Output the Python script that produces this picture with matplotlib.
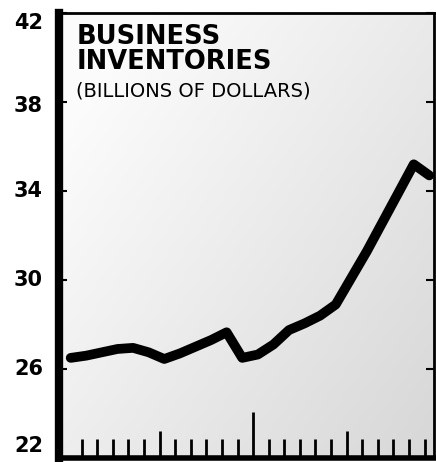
import matplotlib
matplotlib.use('Agg')
import matplotlib.pyplot as plt
import matplotlib.transforms as mtransforms
import numpy as np

# Monthly inventories, billions of dollars
months = np.arange(24) + 0.3
inventories = [26.5, 26.6, 26.75, 26.9, 26.95, 26.75, 26.45, 26.7, 27.0, 27.3,
               27.65, 26.5, 26.65, 27.1, 27.75, 28.05, 28.4, 28.9, 30.1, 31.3,
               32.6, 33.9, 35.2, 34.7]

y_ticks = [22, 26, 30, 34, 38, 42]
minor_x = np.arange(1, 24)

plt.rcParams['font.family'] = ['DejaVu Sans']

fig = plt.figure(figsize=(4.36, 4.62), dpi=100)
ax = fig.add_axes([59 / 436, 4 / 462, 375 / 436, 445 / 462])

ax.set_xlim(-0.45, 23.6)
ax.set_ylim(22, 42)

# stippled paper look: near white at top left, greyer towards bottom right
gx, gy = np.meshgrid(np.linspace(0, 1, 200), np.linspace(0, 1, 200))
shade = np.clip(0.6 * gx + 0.5 * gy - 0.15, 0, 1)
grey = 0.985 - 0.15 * shade
rgb = np.dstack([grey, grey, grey])
ax.imshow(rgb, extent=(-0.45, 23.6, 22, 42), origin='upper', aspect='auto',
          zorder=0)

ax.plot(months, inventories, color='black', linewidth=7,
        solid_joinstyle='round', solid_capstyle='round', zorder=3)

# title inside the plot
ax.text(0.048, 0.975, 'BUSINESS\nINVENTORIES', transform=ax.transAxes,
        fontsize=18.5, fontweight='bold', va='top', ha='left', linespacing=0.92)
ax.text(0.045, 0.845, '(BILLIONS OF DOLLARS)', transform=ax.transAxes,
        fontsize=14, va='top', ha='left')

# spines
ax.spines['left'].set_linewidth(6)
ax.spines['bottom'].set_linewidth(4)
ax.spines['top'].set_linewidth(2)
ax.spines['right'].set_linewidth(2)

# y labels drawn by hand so the end ones sit inside the frame
ax.set_yticks(y_ticks)
ax.set_yticklabels([])
ax.tick_params(axis='y', direction='in', length=6, width=1.5, right=True)
label_tr = mtransforms.blended_transform_factory(fig.transFigure, ax.transData)
nudge = {42: -0.45, 22: 0.55, 38: -0.2}
for v in y_ticks:
    ax.text(43 / 436, v + nudge.get(v, 0), str(v), transform=label_tr,
            fontsize=15, fontweight='bold', ha='right', va='center')

ax.set_xticks(minor_x)
ax.set_xticklabels([])
ax.tick_params(axis='x', direction='in', length=13.5, width=2)
for t in ax.xaxis.get_major_ticks():
    pos = t.get_loc()
    if pos == 12:
        t.tick1line.set_markersize(33)
    elif pos in (6, 18):
        t.tick1line.set_markersize(19.5)

fig.savefig('out.png', dpi=100)
